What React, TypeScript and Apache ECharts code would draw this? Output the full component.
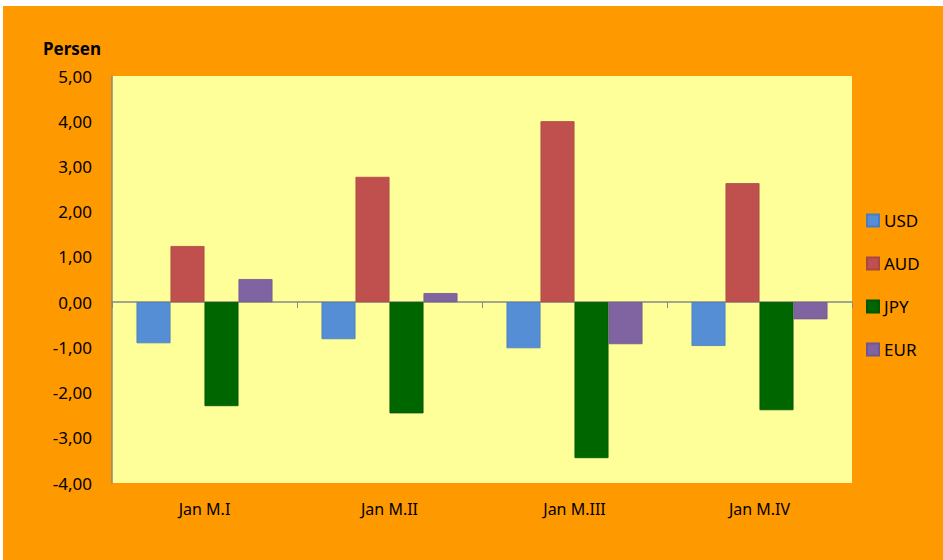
import React, { useEffect, useRef } from "react";
import * as echarts from "echarts";

const categories = ["Jan M.I", "Jan M.II", "Jan M.III", "Jan M.IV"];
const seriesNames = ["USD", "AUD", "JPY", "EUR"];
const usd = [-0.91, -0.82, -1.02, -0.97];
const aud = [1.24, 2.77, 4.0, 2.63];
const jpy = [-2.3, -2.46, -3.45, -2.39];
const eur = [0.51, 0.2, -0.93, -0.38];
const colors = ["#558ED5", "#C0504D", "#006600", "#8064A2"];
const borders = ["#4A7DBB", "#A94744", "#005500", "#70588F"];

const FONT = '"Noto Sans", "Open Sans", sans-serif';

export default function App() {
  const ref = useRef<HTMLDivElement>(null);
  useEffect(() => {
    document.body.style.margin = "0";
    const chart = echarts.init(ref.current!, null, { renderer: "svg" });
    const values = [usd, aud, jpy, eur];
    chart.setOption({
      animation: false,
      backgroundColor: "#FF9900",
      textStyle: { fontFamily: FONT },
      title: {
        text: "Persen",
        left: 35,
        top: 29,
        textStyle: { fontFamily: FONT, fontSize: 17, fontWeight: "bold", color: "#000" },
      },
      legend: {
        orient: "vertical",
        left: 858,
        top: 201,
        itemWidth: 12,
        itemHeight: 12,
        itemGap: 26,
        icon: "rect",
        data: seriesNames,
        textStyle: { fontFamily: FONT, fontSize: 17, color: "#000", padding: [0, 0, 0, 0] },
      },
      grid: {
        left: 109,
        right: 91,
        top: 70,
        bottom: 77,
        show: true,
        backgroundColor: "#FFFF99",
        borderWidth: 0,
      },
      xAxis: [
        {
          type: "category",
          data: categories,
          axisLine: { onZero: true, lineStyle: { color: "#888888", width: 1.5 } },
          axisTick: { show: true, length: 6, lineStyle: { color: "#888888" } },
          axisLabel: { show: false },
          splitLine: { show: false },
        },
        {
          type: "category",
          data: categories,
          position: "bottom",
          axisLine: { show: false, onZero: false },
          axisTick: { show: false },
          axisLabel: { show: true, margin: 18, fontFamily: FONT, fontSize: 16, color: "#000" },
          splitLine: { show: false },
        },
      ],
      yAxis: {
        type: "value",
        min: -4,
        max: 5,
        interval: 1,
        axisLine: { show: true, lineStyle: { color: "#888888", width: 1.5 } },
        axisTick: { show: false },
        splitLine: { show: false },
        axisLabel: {
          margin: 20,
          fontFamily: FONT,
          fontSize: 17,
          color: "#000",
          formatter: (v: number) => v.toFixed(2).replace(".", ","),
        },
      },
      series: seriesNames.map((name, i) => ({
        name,
        type: "bar",
        xAxisIndex: 0,
        data: values[i],
        barGap: "0%",
        barCategoryGap: "26.5%",
        itemStyle: { color: colors[i], borderColor: borders[i], borderWidth: 0.8 },
      })),
    });
    return () => chart.dispose();
  }, []);
  return (
    <div style={{ width: 943, height: 560, background: "#fff", position: "relative" }}>
      <div
        ref={ref}
        style={{ position: "absolute", left: 3, top: 6, width: 940, height: 554 }}
      />
    </div>
  );
}
